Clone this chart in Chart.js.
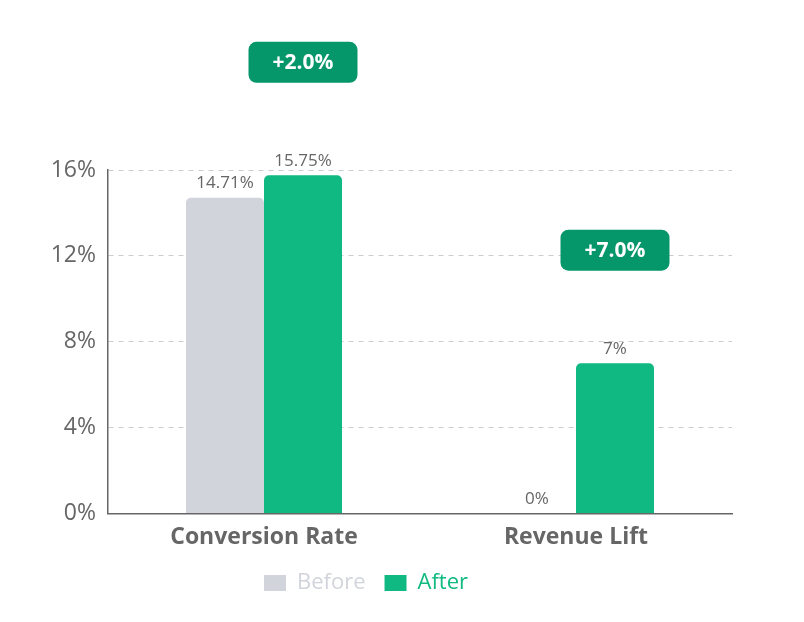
<!DOCTYPE html>
<html lang="en">
<head>
  <meta charset="UTF-8" />
  <title>Before / After</title>
  <style>
    * { margin: 0; padding: 0; box-sizing: border-box; }
    body { background: #fff; width: 804px; height: 622px; overflow: hidden; }
    #wrap { width: 804px; height: 622px; }
  </style>
</head>
<body>
  <div id="wrap"><canvas id="liftChart" width="804" height="622"></canvas></div>

  <script src="https://cdn.jsdelivr.net/npm/chart.js"></script>
  <script>
    // chart data
    const categories = ['Conversion Rate', 'Revenue Lift'];
    const beforeValues = [14.71, 0];
    const afterValues = [15.75, 7];
    const deltaLabels = ['+2.0%', '+7.0%'];
    const yTicks = [0, 4, 8, 12, 16];

    const GREY = '#d1d5db';
    const GREEN = '#10b981';
    const DARK_GREEN = '#059669';
    const FONT = "'Open Sans', 'Noto Sans', sans-serif";

    function fmtValue(v) {
      return (Math.round(v * 100) / 100) + '%';
    }

    // value labels over each bar
    const valueLabels = {
      id: 'valueLabels',
      afterDatasetsDraw(chart) {
        const ctx = chart.ctx;
        ctx.save();
        ctx.font = '17px ' + FONT;
        ctx.fillStyle = '#666';
        ctx.textAlign = 'center';
        ctx.textBaseline = 'bottom';
        chart.data.datasets.forEach((ds, di) => {
          chart.getDatasetMeta(di).data.forEach((bar, i) => {
            ctx.fillText(fmtValue(ds.data[i]), bar.x, bar.y - 6);
          });
        });
        ctx.restore();
      }
    };

    // delta badges above the "After" bars
    const deltaBadges = {
      id: 'deltaBadges',
      afterDatasetsDraw(chart) {
        const ctx = chart.ctx;
        const meta = chart.getDatasetMeta(1);
        ctx.save();
        meta.data.forEach((bar, i) => {
          const w = 109, h = 41;
          const cx = bar.x, cy = bar.y - 113;
          ctx.fillStyle = DARK_GREEN;
          ctx.beginPath();
          ctx.roundRect(cx - w / 2, cy - h / 2, w, h, 8);
          ctx.fill();
          ctx.fillStyle = '#fff';
          ctx.font = 'bold 21px ' + FONT;
          ctx.textAlign = 'center';
          ctx.textBaseline = 'middle';
          ctx.fillText(deltaLabels[i], cx, cy + 1);
        });
        ctx.restore();
      }
    };

    const liftCtx = document.getElementById('liftChart').getContext('2d');
    const liftChart = new Chart(liftCtx, {
      type: 'bar',
      data: {
        labels: categories,
        datasets: [
          {
            label: 'Before',
            data: beforeValues,
            backgroundColor: GREY,
            borderRadius: { topLeft: 5, topRight: 5 },
            borderSkipped: 'start',
            categoryPercentage: 0.5,
            barPercentage: 1.0
          },
          {
            label: 'After',
            data: afterValues,
            backgroundColor: GREEN,
            borderRadius: { topLeft: 5, topRight: 5 },
            borderSkipped: 'start',
            categoryPercentage: 0.5,
            barPercentage: 1.0
          }
        ]
      },
      options: {
        responsive: false,
        animation: false,
        layout: {
          padding: { left: 0, right: 72, top: 170, bottom: 18 }
        },
        plugins: {
          tooltip: { enabled: false },
          legend: {
            position: 'bottom',
            labels: {
              boxWidth: 22,
              boxHeight: 16,
              padding: 19,
              font: { family: FONT, size: 22 },
              generateLabels(chart) {
                const items = Chart.defaults.plugins.legend.labels.generateLabels(chart);
                items.forEach(it => { it.fontColor = it.fillStyle; it.lineWidth = 0; });
                return items;
              }
            }
          }
        },
        scales: {
          x: {
            grid: { display: false },
            border: { color: '#666', width: 1.5 },
            ticks: {
              color: '#666',
              padding: 2,
              font: { family: FONT, size: 23, weight: 'bold' }
            }
          },
          y: {
            min: 0,
            max: 16,
            afterFit(axis) { axis.width = 108; },
            afterBuildTicks(axis) {
              axis.ticks = yTicks.map(v => ({ value: v }));
            },
            grid: { color: '#ccc', drawTicks: false },
            border: { color: '#666', width: 1.5, dash: [5, 5] },
            ticks: {
              color: '#666',
              padding: 12,
              font: { family: FONT, size: 23 },
              callback: v => v + '%'
            }
          }
        }
      },
      plugins: [valueLabels, deltaBadges]
    });
  </script>
</body>
</html>
